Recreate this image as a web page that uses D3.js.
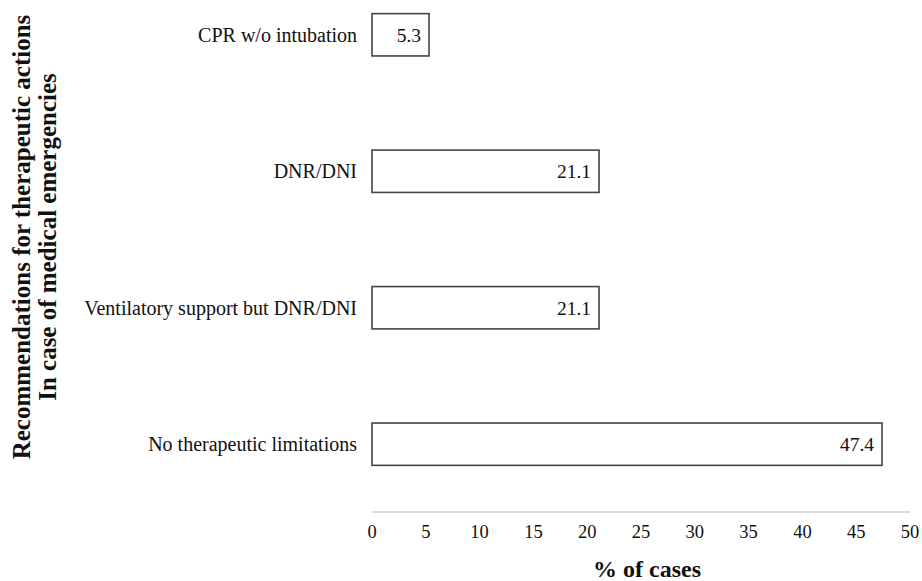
<!DOCTYPE html>
<html><head><meta charset="utf-8">
<script src="https://cdn.jsdelivr.net/npm/d3@7"></script>
<style>body{margin:0;background:#fff}svg{display:block}</style>
</head><body>
<svg id="c" width="922" height="581"></svg>
<script>
const categories = ["CPR w/o intubation", "DNR/DNI", "Ventilatory support but DNR/DNI", "No therapeutic limitations"];
const values = [5.3, 21.1, 21.1, 47.4];
const tickValues = [0, 5, 10, 15, 20, 25, 30, 35, 40, 45, 50];
const yTitle = ["Recommendations for therapeutic actions", "In case of medical emergencies"];
const xTitle = "% of cases";

const svg = d3.select("#c");
const font = "'Liberation Serif', 'Times New Roman', serif";
const x = d3.scaleLinear().domain([0, 50]).range([372, 910]);
const y = d3.scaleBand().domain(categories).range([0, 479]).paddingInner(0.69).paddingOuter(0.1);

// axis line
svg.append("line").attr("x1", x(0)).attr("x2", x(50)).attr("y1", 512).attr("y2", 512)
  .attr("stroke", "#d0d0d0").attr("stroke-width", 1.5);
svg.selectAll("text.tick").data(tickValues).join("text").attr("class", "tick")
  .attr("x", d => x(d)).attr("y", 538).attr("text-anchor", "middle")
  .attr("font-family", font).attr("font-size", 18.5).attr("fill", "#111").text(d => d);

// bars
svg.selectAll("rect.bar").data(values).join("rect").attr("class", "bar")
  .attr("x", x(0)).attr("y", (d, i) => y(categories[i]))
  .attr("width", d => x(d) - x(0)).attr("height", y.bandwidth())
  .attr("fill", "#fff").attr("stroke", "#444").attr("stroke-width", 1.6);
svg.selectAll("text.val").data(values).join("text").attr("class", "val")
  .attr("x", d => x(d) - 8).attr("y", (d, i) => y(categories[i]) + y.bandwidth() / 2 + 7)
  .attr("text-anchor", "end").attr("font-family", font).attr("font-size", 19.5).attr("fill", "#111")
  .text(d => d.toFixed(1));

// category labels
svg.selectAll("text.cat").data(categories).join("text").attr("class", "cat")
  .attr("x", 357).attr("y", d => y(d) + y.bandwidth() / 2 + 7)
  .attr("text-anchor", "end").attr("font-family", font).attr("font-size", 20).attr("fill", "#111")
  .text(d => d);

// y title
const yt = svg.append("text").attr("transform", "translate(0,237) rotate(-90)")
  .attr("text-anchor", "middle").attr("font-family", font).attr("font-size", 25)
  .attr("font-weight", "bold").attr("fill", "#111");
yTitle.forEach((t, i) => yt.append("tspan").attr("x", 0).attr("y", 30 + i * 26).text(t));

// x title
svg.append("text").attr("x", 647).attr("y", 577).attr("text-anchor", "middle")
  .attr("font-family", font).attr("font-size", 24).attr("font-weight", "bold").attr("fill", "#111")
  .text(xTitle);
</script>
</body></html>
